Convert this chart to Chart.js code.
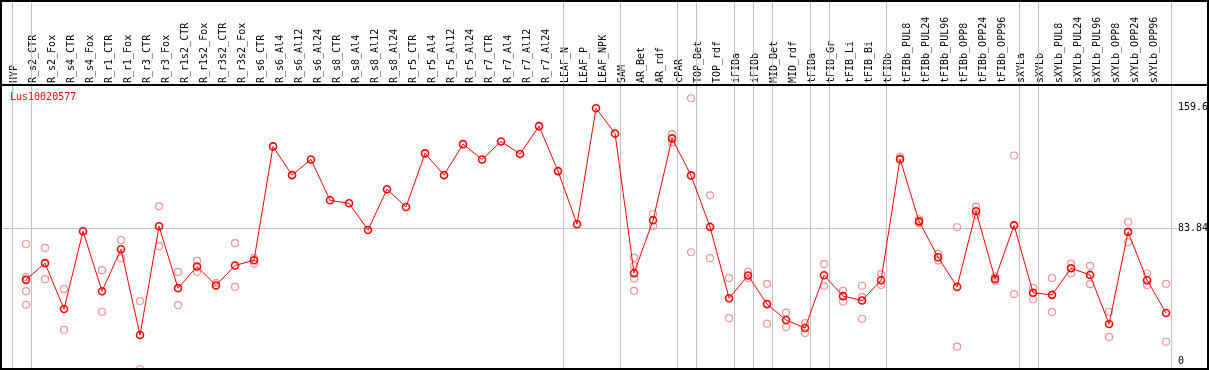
<!DOCTYPE html>
<html>
<head>
<meta charset="utf-8">
<script src="https://cdn.jsdelivr.net/npm/chart.js@4/dist/chart.umd.min.js"></script>
<style>
  html, body { margin: 0; padding: 0; background: #fff; }
  #myChart { display: block; }
</style>
</head>
<body>
<canvas id="myChart" width="1209" height="370"></canvas>
<script>
const categories = [
    "HYP", "R_s2_CTR", "R_s2_Fox", "R_s4_CTR", "R_s4_Fox", "R_r1_CTR", "R_r1_Fox",
    "R_r3_CTR", "R_r3_Fox", "R_r1s2_CTR", "R_r1s2_Fox", "R_r3s2_CTR", "R_r3s2_Fox",
    "R_s6_CTR", "R_s6_Al4", "R_s6_Al12", "R_s6_Al24", "R_s8_CTR", "R_s8_Al4",
    "R_s8_Al12", "R_s8_Al24", "R_r5_CTR", "R_r5_Al4", "R_r5_Al12", "R_r5_Al24",
    "R_r7_CTR", "R_r7_Al4", "R_r7_Al12", "R_r7_Al24", "LEAF_N", "LEAF_P", "LEAF_NPK",
    "SAM", "AR_Bet", "AR_rdf", "cPAR", "TOP_Bet", "TOP_rdf", "iFIBa", "iFIBb",
    "MID_Bet", "MID_rdf", "tFIBa", "tFIB_Gr", "tFIB_Li", "tFIB_Bi", "tFIBb",
    "tFIBb_PUL8", "tFIBb_PUL24", "tFIBb_PUL96", "tFIBb_OPP8", "tFIBb_OPP24", "tFIBb_OPP96",
    "sXYLa", "sXYLb", "sXYLb_PUL8", "sXYLb_PUL24", "sXYLb_PUL96", "sXYLb_OPP8",
    "sXYLb_OPP24", "sXYLb_OPP96"
];

// mean expression per sample
const meanValues = [
    51.3, 61.8, 33.0, 81.8, 44.2, 70.5, 16.7, 84.9, 46.1, 59.7, 47.8, 60.3, 63.6,
    135.0, 117.0, 126.8, 101.2, 99.3, 82.6, 108.1, 97.0, 130.6, 117.0, 136.4, 126.8,
    138.1, 130.2, 147.7, 119.5, 86.2, 158.9, 143.1,
    55.5, 88.7, 140.0, 116.8, 84.5, 39.8, 54.0, 36.1, 26.1, 21.1, 54.2, 41.1, 38.4, 51.1,
    127.0, 88.0, 65.5, 46.9, 94.3, 51.9, 85.5,
    43.2, 41.9, 58.6, 54.4, 23.6, 81.4, 51.1, 30.5
];

// individual replicates (faint circles)
const replicates = [
    [73.8, 53.0, 44.2, 35.7], [71.3, 51.7], [45.5, 20.0], [], [57.4, 31.3],
    [76.3, 64.9], [38.0, -4.6], [97.4, 72.4], [56.3, 35.5], [63.2, 56.3], [49.2],
    [74.3, 46.9], [64.9, 61.5],
    [], [], [], [], [], [], [], [], [], [], [], [], [], [], [], [], [], [], [],
    [65.3, 60.1, 52.1, 44.4], [92.6, 84.9], [142.7, 137.5], [165.2, 68.6],
    [104.3, 64.9], [52.4, 27.3], [56.5, 52.4], [48.8, 23.8], [30.7, 21.7],
    [24.2, 18.0], [61.3, 47.4], [44.4, 37.7], [47.6, 40.5, 26.9], [54.9, 48.0],
    [128.5], [89.3, 86.8], [67.6, 63.4], [84.3, 9.4], [97.2, 92.0], [53.4, 50.7],
    [129.3, 42.4],
    [46.3, 39.0], [52.4, 31.1], [61.5, 55.5], [60.1, 48.6], [31.3, 15.5],
    [87.6, 74.9], [55.3, 48.0], [48.8, 12.5]
];

const yTickValues = [0, 83.84, 159.6];
const separatorsAfter = [-1, 0, 28, 31, 34, 35, 37, 38, 39, 41, 42, 45, 52, 53, 60];
const geneName = "Lus10020577";

const FONT = "DejaVu Sans Mono";
const xMin = -1.316;
const xMax = 60.47;

const meanPoints = meanValues.map((v, i) => ({ x: i, y: v }));
const repPoints = [];
replicates.forEach((list, i) => list.forEach(v => repPoints.push({ x: i, y: v })));

const framePlugin = {
    id: 'frame',
    beforeDatasetsDraw(chart) {
        const c = chart.ctx;
        const area = chart.chartArea;
        const xs = chart.scales.x;
        const ys = chart.scales.y;
        c.save();
        c.strokeStyle = '#c0c0c0';
        c.lineWidth = 1;
        separatorsAfter.forEach(i => {
            const px = Math.round(xs.getPixelForValue(i + 0.24)) + 0.5;
            c.beginPath();
            c.moveTo(px, 0);
            c.lineTo(px, area.bottom);
            c.stroke();
        });
        const gy = Math.round(ys.getPixelForValue(83.84)) + 0.5;
        c.beginPath();
        c.moveTo(area.left, gy);
        c.lineTo(area.right + 2, gy);
        c.stroke();
        c.fillStyle = '#ff0000';
        c.font = '10px "' + FONT + '"';
        c.textBaseline = 'middle';
        c.fillText(geneName, 10, 97);
        c.restore();
    },
    afterDraw(chart) {
        const c = chart.ctx;
        const W = chart.width;
        c.save();
        c.strokeStyle = '#000';
        c.lineWidth = 2;
        c.strokeRect(1, 1, W - 2, 368);
        c.beginPath();
        c.moveTo(0, 85);
        c.lineTo(W, 85);
        c.stroke();
        c.restore();
    }
};

const config = {
    type: 'scatter',
    data: {
        datasets: [{
            data: meanPoints,
            showLine: true,
            borderColor: '#ff0000',
            borderWidth: 1,
            pointRadius: 3.5,
            pointBorderWidth: 1.6,
            pointBorderColor: '#ff0000',
            pointBackgroundColor: 'rgba(255,255,255,0)',
            order: 0
        }, {
            data: repPoints,
            showLine: false,
            pointRadius: 3.5,
            pointBorderWidth: 1.2,
            pointBorderColor: '#f09494',
            pointBackgroundColor: 'rgba(255,255,255,0)',
            order: 1
        }]
    },
    options: {
        responsive: false,
        animation: false,
        devicePixelRatio: 1,
        layout: { autoPadding: false, padding: { left: 1, right: 0, top: 0, bottom: 1 } },
        plugins: {
            legend: { display: false },
            tooltip: { enabled: false }
        },
        scales: {
            x: {
                type: 'linear',
                display: false,
                min: xMin,
                max: xMax
            },
            xTop: {
                type: 'linear',
                position: 'top',
                min: xMin,
                max: xMax,
                afterBuildTicks: scale => {
                    scale.ticks = categories.map((c, i) => ({ value: i }));
                },
                afterFit: scale => {
                    scale.height = 85;
                    scale.paddingLeft = 0;
                    scale.paddingRight = 0;
                },
                grid: { display: false, drawTicks: false },
                border: { display: false },
                ticks: {
                    autoSkip: false,
                    minRotation: 90,
                    maxRotation: 90,
                    padding: 2,
                    color: '#000',
                    font: { family: FONT, size: 10 },
                    callback: value => categories[value]
                }
            },
            y: {
                position: 'right',
                min: -4.6,
                max: 173.5,
                afterBuildTicks: scale => {
                    scale.ticks = yTickValues.map(v => ({ value: v }));
                },
                afterFit: scale => {
                    scale.width = 34;
                    scale.paddingTop = 0;
                    scale.paddingBottom = 0;
                },
                grid: { display: false, drawTicks: false },
                border: { display: false },
                ticks: {
                    padding: 3,
                    color: '#000',
                    font: { family: FONT, size: 10 },
                    callback: value => String(value)
                }
            }
        }
    },
    plugins: [framePlugin]
};

const myChart = new Chart(document.getElementById("myChart").getContext("2d"), config);
</script>
</body>
</html>
